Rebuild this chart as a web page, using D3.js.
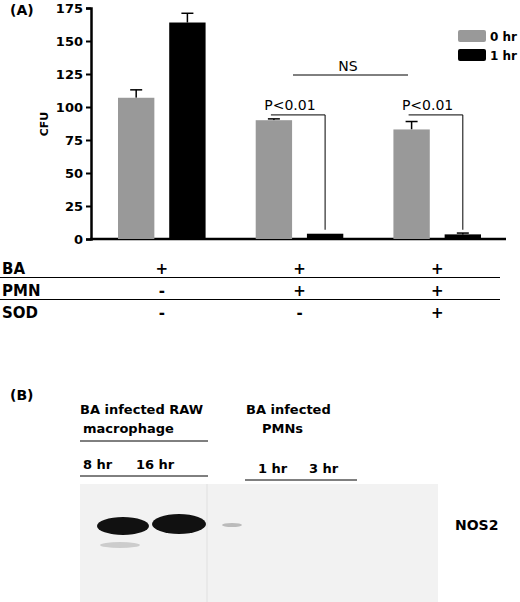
<!DOCTYPE html><html><head><script src="https://cdn.jsdelivr.net/npm/d3@7"></script>
<style>body{margin:0;background:#fff}text{font-family:"DejaVu Sans",Verdana,sans-serif}</style></head><body><svg id="c" width="520" height="602"></svg>
<script>
const groups=["g1","g2","g3"];
const series=["0 hr","1 hr"];
const values0=[107,90,83], err0=[6,1,6];
const values1=[164,4,3.5], err1=[7,0,1];
const yTicks=[0,25,50,75,100,125,150,175];
const rows=[["BA",["+","+","+"]],["PMN",["-","+","+"]],["SOD",["-","-","+"]]];
const colors=["#999","#000"];
const svg=d3.select("#c");
const y=d3.scaleLinear().domain([0,175]).range([239,8]);
const x=d3.scaleBand().domain(groups).range([118,481]).paddingInner(0.364).paddingOuter(0);
const xs=d3.scaleBand().domain(series).range([0,x.bandwidth()]).paddingInner(0.29);
const ax=svg.append("g").attr("transform","translate(91,0)").call(d3.axisLeft(y).tickValues(yTicks).tickSize(5));
ax.select(".domain").attr("stroke-width",2.5);
ax.selectAll("line").attr("stroke-width",2);
ax.selectAll("text").attr("font-weight","bold").attr("font-size",13);
svg.append("line").attr("x1",90).attr("x2",506).attr("y1",239).attr("y2",239).attr("stroke","#000").attr("stroke-width",2.5);
svg.append("text").attr("transform","translate(48,124) rotate(-90)").attr("text-anchor","middle").attr("font-weight","bold").attr("font-size",11).text("CFU");
svg.append("text").attr("x",10).attr("y",15).attr("font-size",14).attr("font-weight","bold").text("(A)");
[values0,values1].forEach((vals,s)=>{
 const er=s?err1:err0;
 groups.forEach((g,i)=>{
  const bx=x(g)+xs(series[s]), w=xs.bandwidth();
  if(er[i]>0){svg.append("line").attr("x1",bx+w/2).attr("x2",bx+w/2).attr("y1",y(vals[i])).attr("y2",y(vals[i]+er[i])).attr("stroke","#000").attr("stroke-width",1.5);
  svg.append("line").attr("x1",bx+w/2-6).attr("x2",bx+w/2+6).attr("y1",y(vals[i]+er[i])).attr("y2",y(vals[i]+er[i])).attr("stroke","#000").attr("stroke-width",1.5);}
  svg.append("rect").attr("x",bx).attr("width",w).attr("y",y(vals[i])).attr("height",y(0)-y(vals[i])).attr("fill",colors[s]);
 });
});
series.forEach((s,i)=>{
 svg.append("rect").attr("x",458).attr("y",30+i*19).attr("width",28).attr("height",12).attr("rx",2).attr("fill",colors[i]);
 svg.append("text").attr("x",490).attr("y",41+i*19).attr("font-weight","bold").attr("font-size",12).text(s);
});
const cx=(g,s)=>x(g)+xs(s)+xs.bandwidth()/2;
svg.append("line").attr("x1",293).attr("x2",408).attr("y1",75).attr("y2",75).attr("stroke","#000");
svg.append("text").attr("x",348).attr("y",71).attr("text-anchor","middle").attr("font-size",14).text("NS");
["g2","g3"].forEach(g=>{
 const a=cx(g,"0 hr"), b=cx(g,"1 hr");
 svg.append("path").attr("d",`M${a-3},${y(94)}H${b}V${y(7)}`).attr("fill","none").attr("stroke","#000");
 svg.append("text").attr("x",a+16).attr("y",y(94)-5).attr("text-anchor","middle").attr("font-size",14).text("P<0.01");
});
rows.forEach((r,i)=>{
 const ty=274+i*22;
 svg.append("text").attr("x",2).attr("y",ty).attr("font-weight","bold").attr("font-size",15).text(r[0]);
 r[1].forEach((v,j)=>svg.append("text").attr("x",x(groups[j])+x.bandwidth()/2).attr("y",ty).attr("text-anchor","middle").attr("font-weight","bold").attr("font-size",15).text(v));
 if(i<2) svg.append("line").attr("x1",0).attr("x2",500).attr("y1",ty+3.5).attr("y2",ty+3.5).attr("stroke","#000");
});
const t=(s,xx,yy,o={})=>svg.append("text").attr("x",xx).attr("y",yy).attr("font-weight","bold").attr("font-size",o.fs||13).attr("text-anchor",o.a||"start").text(s);
t("(B)",10,400,{fs:14});
t("BA infected RAW",80,414);t("macrophage",83,433);
svg.append("line").attr("x1",80).attr("x2",208).attr("y1",441).attr("y2",441).attr("stroke","#000");
t("8 hr",83,469);t("16 hr",136,469);
svg.append("line").attr("x1",80).attr("x2",208).attr("y1",476).attr("y2",476).attr("stroke","#000");
t("BA infected",246,414);t("PMNs",262,433);
t("1 hr",258,473);t("3 hr",309,473);
svg.append("line").attr("x1",245).attr("x2",357).attr("y1",480).attr("y2",480).attr("stroke","#000");
svg.append("rect").attr("x",80).attr("y",484).attr("width",358).attr("height",118).attr("fill","#f2f2f2");
svg.append("line").attr("x1",207).attr("x2",207).attr("y1",484).attr("y2",602).attr("stroke","#e0e0e0");
svg.append("ellipse").attr("cx",123).attr("cy",526).attr("rx",26).attr("ry",9).attr("fill","#111");
svg.append("ellipse").attr("cx",179).attr("cy",524).attr("rx",27).attr("ry",10).attr("fill","#111");
svg.append("ellipse").attr("cx",232).attr("cy",525).attr("rx",10).attr("ry",2).attr("fill","#bbb");
svg.append("ellipse").attr("cx",120).attr("cy",545).attr("rx",20).attr("ry",3).attr("fill","#ccc");
t("NOS2",455,530,{fs:14});
</script></body></html>
